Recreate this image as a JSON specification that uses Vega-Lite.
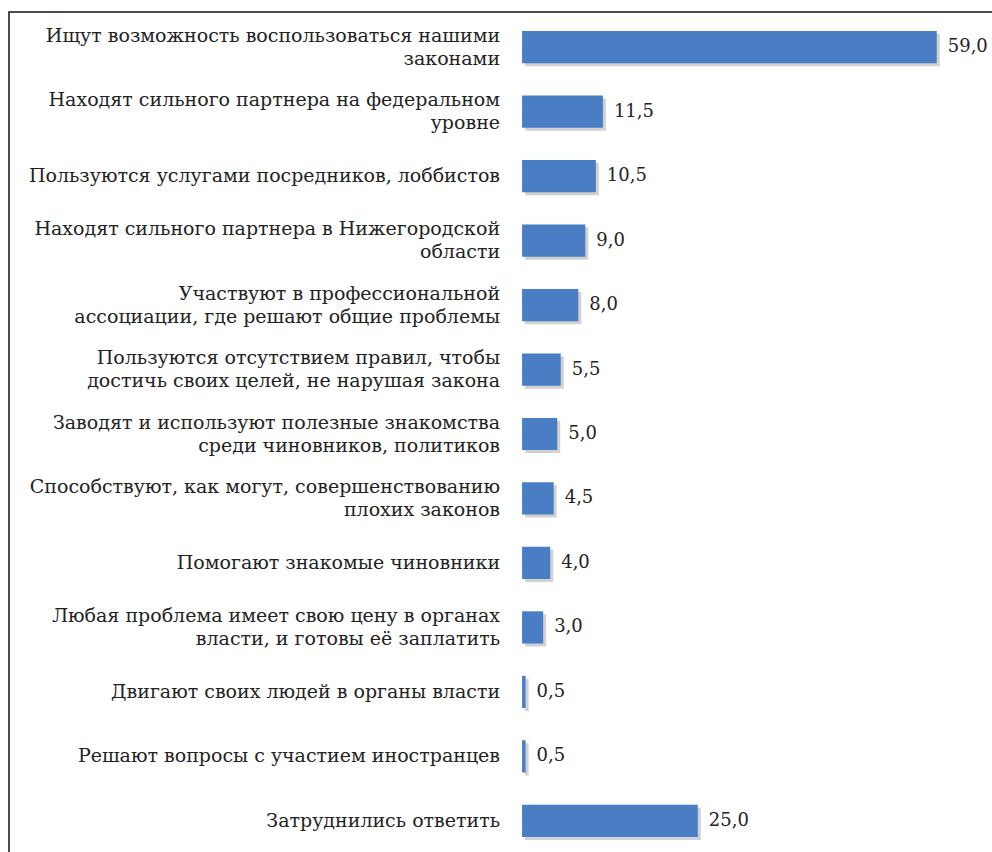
{
  "$schema": "https://vega.github.io/schema/vega-lite/v6.json",
  "autosize": {"type": "none"},
  "padding": {"left": 9, "top": 12, "right": 0, "bottom": 0},
  "width": 991,
  "height": 844,
  "background": "white",
  "config": {
    "view": {"stroke": "#111", "strokeWidth": 1.5},
    "locale": {"number": {"decimal": ",", "thousands": " ", "grouping": [3], "currency": ["", ""]}}
  },
  "data": {"values": [
    {"label": "Ищут возможность воспользоваться нашими\nзаконами", "value": 59.0},
    {"label": "Находят сильного партнера на федеральном\nуровне", "value": 11.5},
    {"label": "Пользуются услугами посредников, лоббистов", "value": 10.5},
    {"label": "Находят сильного партнера в Нижегородской\nобласти", "value": 9.0},
    {"label": "Участвуют в профессиональной\nассоциации, где решают общие проблемы", "value": 8.0},
    {"label": "Пользуются отсутствием правил, чтобы\nдостичь своих целей, не нарушая закона", "value": 5.5},
    {"label": "Заводят и используют полезные знакомства\nсреди чиновников, политиков", "value": 5.0},
    {"label": "Способствуют, как могут, совершенствованию\nплохих законов", "value": 4.5},
    {"label": "Помогают знакомые чиновники", "value": 4.0},
    {"label": "Любая проблема имеет свою цену в органах\nвласти, и готовы её заплатить", "value": 3.0},
    {"label": "Двигают своих людей в органы власти", "value": 0.5},
    {"label": "Решают вопросы с участием иностранцев", "value": 0.5},
    {"label": "Затруднились ответить", "value": 25.0}
  ]},
  "encoding": {
    "y": {"field": "label", "type": "nominal", "sort": null, "axis": null,
          "scale": {"paddingInner": 0.5, "paddingOuter": 0.295}}
  },
  "layer": [
    {
      "mark": {"type": "bar", "color": "#9a9a9a", "opacity": 0.45, "xOffset": 3, "yOffset": 3},
      "encoding": {
        "x": {"field": "value", "type": "quantitative", "axis": null, "scale": {"domain": [-73, 68], "nice": false, "zero": false}}
      }
    },
    {
      "mark": {"type": "bar", "color": "#4A7EC4"},
      "encoding": {
        "x": {"field": "value", "type": "quantitative"}
      }
    },
    {
      "mark": {"type": "text", "align": "left", "baseline": "middle", "dx": 11, "font": "DejaVu Serif", "fontSize": 18, "color": "#222"},
      "encoding": {
        "x": {"field": "value", "type": "quantitative"},
        "text": {"field": "value", "type": "quantitative", "format": ".1f"}
      }
    },
    {
      "transform": [{"filter": "indexof(datum.label, '\\n') >= 0"}],
      "mark": {"type": "text", "align": "right", "baseline": "middle", "dx": -22, "dy": -11.5, "lineBreak": "\n", "lineHeight": 23, "font": "DejaVu Serif", "fontSize": 19, "color": "#222"},
      "encoding": {
        "x": {"datum": 0, "type": "quantitative"},
        "text": {"field": "label"}
      }
    },
    {
      "transform": [{"filter": "indexof(datum.label, '\\n') < 0"}],
      "mark": {"type": "text", "align": "right", "baseline": "middle", "dx": -22, "font": "DejaVu Serif", "fontSize": 19, "color": "#222"},
      "encoding": {
        "x": {"datum": 0, "type": "quantitative"},
        "text": {"field": "label"}
      }
    }
  ]
}
